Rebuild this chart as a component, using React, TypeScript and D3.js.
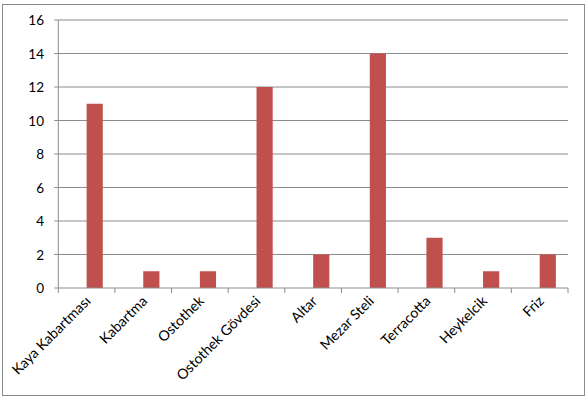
import React from "react";
import * as d3 from "d3";

const categories = [
  "Kaya Kabartması",
  "Kabartma",
  "Ostothek",
  "Ostothek Gövdesi",
  "Altar",
  "Mezar Steli",
  "Terracotta",
  "Heykelcik",
  "Friz",
];
const seriesNames = ["empty", "count"];
const countValues = [11, 1, 1, 12, 2, 14, 3, 1, 2];
const yTicks = [0, 2, 4, 6, 8, 10, 12, 14, 16];

const W = 588;
const H = 398;
const M = { left: 58.3, right: 568, top: 20, bottom: 288 };

export default function App() {
  const x = d3.scaleBand<string>().domain(categories).range([M.left, M.right]).padding(0);
  const x1 = d3
    .scaleBand<string>()
    .domain(seriesNames)
    .range([0, x.bandwidth()])
    .paddingInner(0)
    .paddingOuter(0.75);
  const y = d3.scaleLinear().domain([0, 16]).range([M.bottom, M.top]);
  const font = "Lato, 'Open Sans', sans-serif";
  const boundaries = categories.map((c) => x(c)!).concat([M.right]);

  return (
    <svg
      width={W}
      height={H}
      style={{ position: "absolute", left: 0, top: 0, display: "block", background: "#fff" }}
    >
      <rect x={2.5} y={4.5} width={582} height={391} fill="#fff" stroke="#8c8c8c" strokeWidth={1} />
      {yTicks.map((t) => (
        <g key={t}>
          {t > 0 && (
            <line x1={M.left} x2={M.right} y1={y(t)} y2={y(t)} stroke="#8c8c8c" strokeWidth={1} />
          )}
          <line x1={M.left - 4} x2={M.left} y1={y(t)} y2={y(t)} stroke="#8c8c8c" strokeWidth={1} />
          <text
            x={44}
            y={y(t)}
            textAnchor="end"
            dominantBaseline="central"
            fontFamily={font}
            fontSize={13.5}
            fill="#000"
          >
            {t}
          </text>
        </g>
      ))}
      {categories.map((c, i) => (
        <rect
          key={c}
          x={x(c)! + x1("count")!}
          y={y(countValues[i])}
          width={x1.bandwidth()}
          height={y(0) - y(countValues[i])}
          fill="#C0504D"
        />
      ))}
      <line x1={M.left} x2={M.left} y1={M.top} y2={M.bottom} stroke="#8c8c8c" strokeWidth={1} />
      <line x1={M.left} x2={M.right} y1={M.bottom} y2={M.bottom} stroke="#8c8c8c" strokeWidth={1} />
      {boundaries.map((b, i) => (
        <line key={i} x1={b} x2={b} y1={M.bottom} y2={M.bottom + 5} stroke="#8c8c8c" strokeWidth={1} />
      ))}
      {categories.map((c) => {
        const cx = x(c)! + x.bandwidth() / 2 + 5;
        const cy = M.bottom + 14;
        return (
          <text
            key={c}
            transform={`translate(${cx},${cy}) rotate(-45)`}
            textAnchor="end"
            fontFamily={font}
            fontSize={14.2}
            fill="#000"
          >
            {c}
          </text>
        );
      })}
    </svg>
  );
}
